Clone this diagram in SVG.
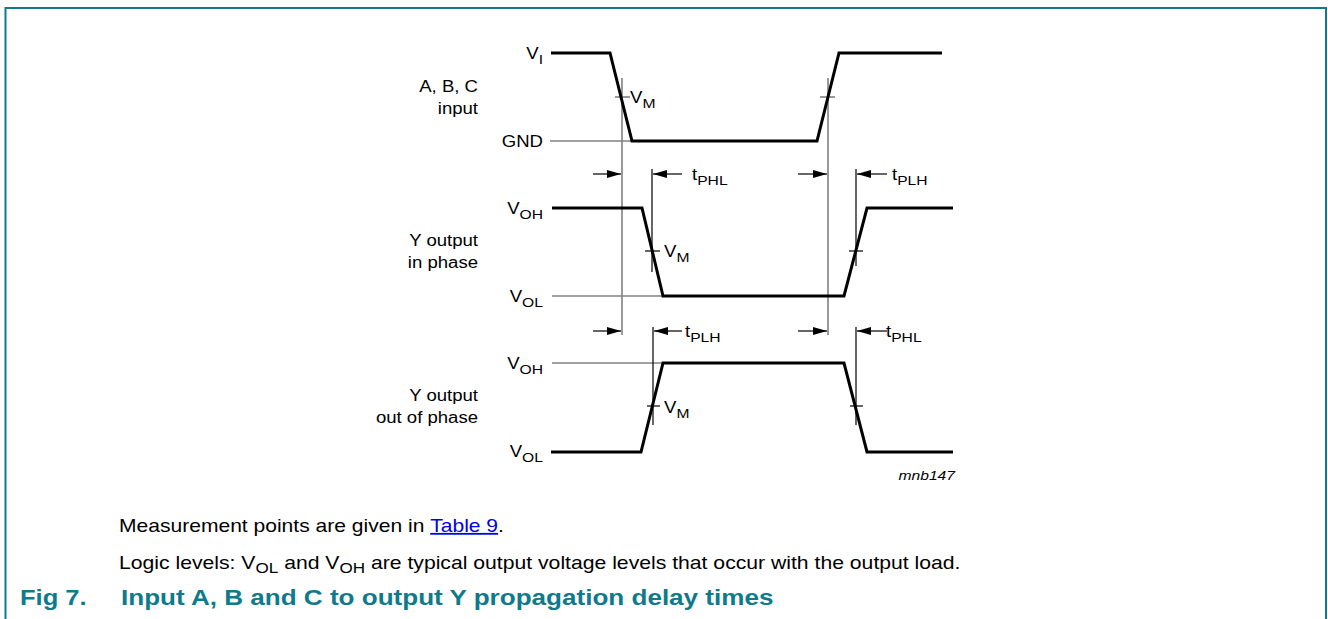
<svg xmlns="http://www.w3.org/2000/svg" width="1328" height="619" viewBox="0 0 1328 619">
<style>
text{font-family:"Liberation Sans",Arial,sans-serif;fill:#000}
.lbl{font-size:16px}
.sub{font-size:13.5px}
.bsub{font-size:14.5px}
.sig{fill:none;stroke:#000;stroke-width:3;stroke-linejoin:miter}
.ref{stroke:#444;stroke-width:1.2}
.gv{stroke:#808080;stroke-width:1.6}
.bk{stroke:#000;stroke-width:1.2}
.arr{stroke:#000;stroke-width:1.2;marker-end:url(#ah)}
.body{font-size:18px}
.title{font-size:22px;font-weight:bold;fill:#0E7A8C}
.link{fill:#0000EE;text-decoration:underline}
</style>
<defs>
<marker id="ah" viewBox="0 0 14 8" refX="14" refY="4" markerWidth="14" markerHeight="8" markerUnits="userSpaceOnUse" orient="auto">
<path d="M0,0 L14,4 L0,8 Z" fill="#000"/>
</marker>
</defs>
<path d="M5.5,619 V8 H1326 V619" fill="none" stroke="#0E7A8C" stroke-width="2"/>

<g id="connectors">
<line class="ref" x1="550" y1="141" x2="632" y2="141"/>
<line class="ref" x1="552" y1="296" x2="663" y2="296"/>
<line class="ref" x1="552" y1="363" x2="663" y2="363"/>
<line class="gv" x1="622" y1="78" x2="622" y2="335"/>
<line class="gv" x1="828" y1="78" x2="828" y2="335"/>
<line class="bk" x1="652" y1="169" x2="652" y2="272"/>
<line class="bk" x1="856" y1="169" x2="856" y2="266"/>
<line class="bk" x1="653" y1="327" x2="653" y2="425"/>
<line class="bk" x1="856" y1="327" x2="856" y2="425"/>
<line class="gv" x1="615" y1="97" x2="630" y2="97"/>
<line class="gv" x1="820" y1="97" x2="835" y2="97"/>
<line class="bk" x1="645" y1="251" x2="660" y2="251"/>
<line class="bk" x1="849" y1="251" x2="863" y2="251"/>
<line class="bk" x1="647" y1="406" x2="660" y2="406"/>
<line class="bk" x1="850" y1="406" x2="863" y2="406"/>
<line class="arr" x1="593" y1="174" x2="621" y2="174"/>
<line class="arr" x1="682" y1="174" x2="653" y2="174"/>
<line class="arr" x1="798" y1="174" x2="827" y2="174"/>
<line class="arr" x1="887" y1="174" x2="857" y2="174"/>
<line class="arr" x1="593" y1="331" x2="621" y2="331"/>
<line class="arr" x1="682" y1="331" x2="654" y2="331"/>
<line class="arr" x1="798" y1="331" x2="827" y2="331"/>
<line class="arr" x1="887" y1="331" x2="857" y2="331"/>
</g>

<g id="input-signal">
<path class="sig" d="M551,53 H610 L632,141 H817 L839,53 H942"/>
<text class="lbl" transform="matrix(1.16 0 0 1 543 59)" text-anchor="end">V<tspan class="sub" dy="5">I</tspan></text>
<text class="lbl" transform="matrix(1.16 0 0 1 478 92)" text-anchor="end">A, B, C</text>
<text class="lbl" transform="matrix(1.16 0 0 1 478 114)" text-anchor="end">input</text>
<text class="lbl" transform="matrix(1.16 0 0 1 543 147)" text-anchor="end">GND</text>
<text class="lbl" transform="matrix(1.16 0 0 1 630 103)">V<tspan class="sub" dy="5">M</tspan></text>
</g>

<g id="output-in-phase">
<path class="sig" d="M552,208 H642 L663,296 H844 L867,208 H953"/>
<text class="lbl" transform="matrix(1.16 0 0 1 543 214)" text-anchor="end">V<tspan class="sub" dy="5">OH</tspan></text>
<text class="lbl" transform="matrix(1.16 0 0 1 478 246)" text-anchor="end">Y output</text>
<text class="lbl" transform="matrix(1.16 0 0 1 478 268)" text-anchor="end">in phase</text>
<text class="lbl" transform="matrix(1.16 0 0 1 543 302)" text-anchor="end">V<tspan class="sub" dy="5">OL</tspan></text>
<text class="lbl" transform="matrix(1.16 0 0 1 664 257)">V<tspan class="sub" dy="5">M</tspan></text>
<text class="lbl" transform="matrix(1.16 0 0 1 692 180)">t<tspan class="sub" dy="5">PHL</tspan></text>
<text class="lbl" transform="matrix(1.16 0 0 1 892 180)">t<tspan class="sub" dy="5">PLH</tspan></text>
</g>

<g id="output-out-of-phase">
<path class="sig" d="M551,452 H641 L663,363 H844 L867,452 H953"/>
<text class="lbl" transform="matrix(1.16 0 0 1 543 369)" text-anchor="end">V<tspan class="sub" dy="5">OH</tspan></text>
<text class="lbl" transform="matrix(1.16 0 0 1 478 401)" text-anchor="end">Y output</text>
<text class="lbl" transform="matrix(1.16 0 0 1 478 423)" text-anchor="end">out of phase</text>
<text class="lbl" transform="matrix(1.16 0 0 1 543 457)" text-anchor="end">V<tspan class="sub" dy="5">OL</tspan></text>
<text class="lbl" transform="matrix(1.16 0 0 1 664 413)">V<tspan class="sub" dy="5">M</tspan></text>
<text class="lbl" transform="matrix(1.16 0 0 1 685 337)">t<tspan class="sub" dy="5">PLH</tspan></text>
<text class="lbl" transform="matrix(1.16 0 0 1 886 337)">t<tspan class="sub" dy="5">PHL</tspan></text>
<text transform="matrix(1.16 0 0 1 955 480)" text-anchor="end" style="font-size:13.5px;font-style:italic">mnb147</text>
</g>

<g id="caption">
<text class="body" transform="matrix(1.17 0 0 1 119 532)">Measurement points are given in <tspan class="link">Table 9</tspan>.</text>
<text class="body" transform="matrix(1.177 0 0 1 119 569)">Logic levels: V<tspan class="bsub" dy="4">OL</tspan><tspan dy="-4"> and V</tspan><tspan class="bsub" dy="4">OH</tspan><tspan dy="-4"> are typical output voltage levels that occur with the output load.</tspan></text>
<text class="title" transform="matrix(1.16 0 0 1 20 605)">Fig 7.</text>
<text class="title" transform="matrix(1.185 0 0 1 121 605)">Input A, B and C to output Y propagation delay times</text>
</g>
</svg>
